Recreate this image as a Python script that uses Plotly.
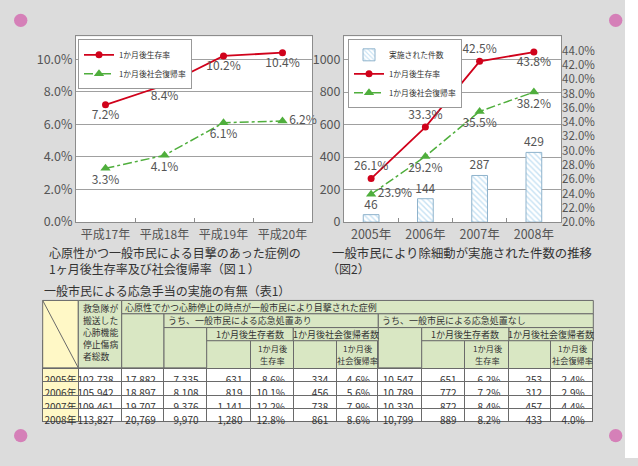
import plotly.graph_objects as go

W, H = 638, 466


def px(x):
    return x / W


def py(y):
    return 1 - y / H


# ---------------- data ----------------
# Figure 1
fig1_categories = ["平成17年", "平成18年", "平成19年", "平成20年"]
fig1_survival = [7.2, 8.4, 10.2, 10.4]
fig1_social = [3.3, 4.1, 6.1, 6.2]
fig1_yticks = [0, 2, 4, 6, 8, 10]

# Figure 2
fig2_categories = ["2005年", "2006年", "2007年", "2008年"]
fig2_counts = [46, 144, 287, 429]
fig2_survival = [26.1, 33.3, 42.5, 43.8]
fig2_social = [23.9, 29.2, 35.5, 38.2]
fig2_left_ticks = [0, 200, 400, 600, 800, 1000]
fig2_right_ticks = [20, 22, 24, 26, 28, 30, 32, 34, 36, 38, 40, 42, 44]

# Table 1
table_years = ["2005年", "2006年", "2007年", "2008年"]
total_cpa = [102738, 105942, 109461, 113827]
witnessed = [17882, 18897, 19707, 20769]
aid_total = [7335, 8108, 9376, 9970]
aid_survivors = [631, 819, 1141, 1280]
aid_survival_rate = [8.6, 10.1, 12.2, 12.8]
aid_social = [334, 456, 738, 861]
aid_social_rate = [4.6, 5.6, 7.9, 8.6]
noaid_total = [10547, 10789, 10330, 10799]
noaid_survivors = [651, 772, 872, 889]
noaid_survival_rate = [6.2, 7.2, 8.4, 8.2]
noaid_social = [253, 312, 457, 433]
noaid_social_rate = [2.4, 2.9, 4.4, 4.0]

# ---------------- styles ----------------
JP = "Noto Sans CJK JP"
NUM = "Noto Sans CJK JP"
RED = "#d0021b"
GREEN = "#4fae3c"
GRID = "#a0a0a0"
AX = "#8c8c8c"
TXT = "#555555"
DARK = "#333333"
BG = "#dcdcdc"
HDR = "#d9e7c3"
YEL = "#fff8c6"
TLINE = "#6a6a6a"
PINK = "#d580b8"
LBL = 12

fig = go.Figure()

# Figure 1 traces
fig.add_trace(go.Scatter(
    x=fig1_categories, y=fig1_survival, name="1か月後生存率",
    mode="lines+markers+text", xaxis="x", yaxis="y", legend="legend",
    line=dict(color=RED, width=1.8), marker=dict(symbol="circle", size=7, color=RED),
    text=[f"{v:.1f}%" for v in fig1_survival], textposition="bottom center",
    textfont=dict(family=NUM, size=LBL, color=TXT), cliponaxis=False,
))
fig.add_trace(go.Scatter(
    x=fig1_categories, y=fig1_social, name="1か月後社会復帰率",
    mode="lines+markers+text", xaxis="x", yaxis="y", legend="legend",
    line=dict(color=GREEN, width=1.5, dash="dashdot"),
    marker=dict(symbol="triangle-up", size=9, color=GREEN),
    text=[f"{v:.1f}%" for v in fig1_social],
    textposition=["bottom center", "bottom center", "bottom center", "middle right"],
    textfont=dict(family=NUM, size=LBL, color=TXT), cliponaxis=False,
))

# Figure 2 traces
fig.add_trace(go.Bar(
    x=fig2_categories, y=fig2_counts, name="実施された件数",
    xaxis="x2", yaxis="y2", legend="legend2", width=0.29,
    marker=dict(color="white", line=dict(color="#8fb3cc", width=1),
                pattern=dict(shape="\\", fgcolor="#8cc4e8", size=4, solidity=0.35)),
    text=[str(v) for v in fig2_counts], textposition="outside", constraintext="none",
    textfont=dict(family=NUM, size=LBL, color=TXT), cliponaxis=False,
))
fig.add_trace(go.Scatter(
    x=fig2_categories, y=fig2_survival, name="1か月後生存率",
    mode="lines+markers+text", xaxis="x2", yaxis="y3", legend="legend2",
    line=dict(color=RED, width=1.8), marker=dict(symbol="circle", size=7, color=RED),
    text=[f"{v:.1f}%" for v in fig2_survival],
    textposition=["top center", "top center", "top center", "bottom center"],
    textfont=dict(family=NUM, size=LBL, color=TXT), cliponaxis=False,
))
fig.add_trace(go.Scatter(
    x=fig2_categories, y=fig2_social, name="1か月後社会復帰率",
    mode="lines+markers+text", xaxis="x2", yaxis="y3", legend="legend2",
    line=dict(color=GREEN, width=1.5, dash="dashdot"),
    marker=dict(symbol="triangle-up", size=9, color=GREEN),
    text=[f"{v:.1f}%" for v in fig2_social],
    textposition=["middle right", "bottom center", "bottom center", "bottom center"],
    textfont=dict(family=NUM, size=LBL, color=TXT), cliponaxis=False,
))

# Table body (plus last header row) via go.Table
col_x = [42.7, 78.3, 121.7, 164, 206.7, 250.7, 293.3, 336.7, 378.3,
         421.7, 465, 509, 550.7, 593.3]
hdr_y = [305.7, 319.3, 333.3, 346.7, 374.3]
row_h = 13.35
col_w = [col_x[i + 1] - col_x[i] for i in range(len(col_x) - 1)]


def fmt_int(vals):
    return [f"{v:,}" for v in vals]


def fmt_pct(vals):
    return [f"{v:.1f}%" for v in vals]


cell_cols = [
    table_years, fmt_int(total_cpa), fmt_int(witnessed), fmt_int(aid_total),
    fmt_int(aid_survivors), fmt_pct(aid_survival_rate), fmt_int(aid_social),
    fmt_pct(aid_social_rate), fmt_int(noaid_total), fmt_int(noaid_survivors),
    fmt_pct(noaid_survival_rate), fmt_int(noaid_social), fmt_pct(noaid_social_rate),
]

fig.add_trace(go.Table(
    domain=dict(x=[px(col_x[0]), px(col_x[-1])], y=[py(434), py(hdr_y[3])]),
    columnwidth=col_w,
    header=dict(values=[""] * 13, height=hdr_y[4] - hdr_y[3], fill_color=HDR,
                line=dict(color=TLINE, width=1), align="center",
                font=dict(family=JP, size=9, color=DARK)),
    cells=dict(values=cell_cols, height=row_h,
               fill_color=[[YEL] * 4] + [["white"] * 4] * 12,
               line=dict(color=TLINE, width=1),
               align=["center"] + ["right"] * 12,
               font=dict(family=NUM, size=10, color=DARK)),
))

shapes = []
annotations = []

# right white strip
shapes.append(dict(type="rect", xref="paper", yref="paper", x0=px(625), x1=1, y0=0, y1=1,
                   fillcolor="white", line=dict(width=0), layer="below"))
# pink dots
for cx, cy in [(20.7, 20.7), (615.7, 20.7), (20.7, 443.3), (615.7, 443.3)]:
    r = 6.7
    shapes.append(dict(type="circle", xref="paper", yref="paper",
                       x0=px(cx - r), x1=px(cx + r), y0=py(cy + r), y1=py(cy - r),
                       fillcolor=PINK, line=dict(width=0)))

# merged header cells: (c0, c1, r0, r1, fill)
header_cells = [
    (0, 1, 0, 4, YEL), (1, 2, 0, 4, HDR), (2, 13, 0, 1, HDR), (2, 3, 1, 4, HDR),
    (3, 8, 1, 2, HDR), (8, 13, 1, 2, HDR), (3, 4, 2, 4, HDR), (8, 9, 2, 4, HDR),
    (4, 6, 2, 3, HDR), (6, 8, 2, 3, HDR), (9, 11, 2, 3, HDR), (11, 13, 2, 3, HDR),
]
for c0, c1, r0, r1, fill in header_cells:
    shapes.append(dict(type="rect", xref="paper", yref="paper",
                       x0=px(col_x[c0]), x1=px(col_x[c1]),
                       y0=py(hdr_y[r1]), y1=py(hdr_y[r0]),
                       fillcolor=fill, line=dict(color=TLINE, width=1), layer="above"))
shapes.append(dict(type="line", xref="paper", yref="paper",
                   x0=px(col_x[0]), y0=py(hdr_y[0]), x1=px(col_x[1]), y1=py(hdr_y[4]),
                   line=dict(color=TLINE, width=1), layer="above"))


def ann(x, y, text, size=10, xanchor="left", color=DARK, family=JP):
    annotations.append(dict(xref="paper", yref="paper", x=px(x), y=py(y), text=text,
                            showarrow=False, xanchor=xanchor, yanchor="middle",
                            font=dict(family=family, size=size, color=color)))


# header texts
for i, line in enumerate(["救急隊が", "搬送した", "心肺機能", "停止傷病", "者総数"]):
    ann(col_x[1] + 2.5, 313.5 + i * 12.2, line, size=8.8)
ann(col_x[2] + 1.5, (hdr_y[0] + hdr_y[1]) / 2, "心原性でかつ心肺停止の時点が一般市民により目撃された症例", size=9)
ann(col_x[3] + 1.5, (hdr_y[1] + hdr_y[2]) / 2, "うち、一般市民による応急処置あり", size=9)
ann(col_x[8] + 1.5, (hdr_y[1] + hdr_y[2]) / 2, "うち、一般市民による応急処置なし", size=9)
for c0, c1, t in [(4, 6, "1か月後生存者数"), (6, 8, "1か月後社会復帰者数"),
                  (9, 11, "1か月後生存者数"), (11, 13, "1か月後社会復帰者数")]:
    ann((col_x[c0] + col_x[c1]) / 2, (hdr_y[2] + hdr_y[3]) / 2, t, size=9, xanchor="center")
for c, t2 in [(5, "生存率"), (7, "社会復帰率"), (10, "生存率"), (12, "社会復帰率")]:
    xc = (col_x[c] + col_x[c + 1]) / 2
    ann(xc, 354.5, "1か月後", size=8.2, xanchor="center")
    ann(xc, 366, t2, size=8.2, xanchor="center")

# captions
ann(47, 257.3, "心原性かつ一般市民による目撃のあった症例の", size=12)
ann(47, 273, "1ヶ月後生存率及び社会復帰率（図１）", size=12)
ann(330, 257.3, "一般市民により除細動が実施された件数の推移", size=12.4)
ann(325, 273, "（図2）", size=12)
ann(42, 295.5, "一般市民による応急手当の実施の有無（表1）", size=12)

axis_common = dict(showline=True, linecolor=AX, linewidth=1, mirror=True, zeroline=False)
tickf = dict(family=NUM, size=12.5, color=TXT)
legf = dict(family=JP, size=7.8, color=DARK)

fig.update_layout(
    width=W, height=H, margin=dict(l=0, r=0, t=0, b=0),
    paper_bgcolor=BG, plot_bgcolor="white", showlegend=True, bargap=0.7,
    xaxis=dict(domain=[px(76), px(312)], anchor="y", type="category", range=[-0.5, 3.5],
               ticks="inside", tickson="boundaries", ticklen=4, tickcolor=AX,
               ticklabelstandoff=1,
               showgrid=False, tickfont=dict(family=JP, size=12, color=TXT), **axis_common),
    yaxis=dict(domain=[py(226), py(37)], anchor="x", range=[0, 11.4],
               tickvals=fig1_yticks, ticktext=[f"{v:.1f}%" for v in fig1_yticks],
               showgrid=True, gridcolor=GRID, gridwidth=1, ticks="", tickfont=tickf,
               **axis_common),
    xaxis2=dict(domain=[px(344), px(561)], anchor="y2", type="category", range=[-0.5, 3.5],
                ticks="inside", tickson="boundaries", ticklen=4, tickcolor=AX,
                ticklabelstandoff=1,
                showgrid=False, tickfont=tickf, **axis_common),
    yaxis2=dict(domain=[py(226), py(37)], anchor="x2", range=[0, 1143],
                tickvals=fig2_left_ticks, showgrid=True, gridcolor=GRID, gridwidth=1,
                ticks="", tickfont=tickf, **axis_common),
    yaxis3=dict(overlaying="y2", anchor="x2", side="right", range=[20, 46],
                tickvals=fig2_right_ticks, ticktext=[f"{v:.1f}%" for v in fig2_right_ticks],
                showgrid=False, showline=False, ticks="", zeroline=False,
                tickfont=dict(family=NUM, size=11.5, color=TXT)),
    legend=dict(x=px(78), y=py(40), xanchor="left", yanchor="top", bgcolor="white",
                bordercolor="#999999", borderwidth=1, font=legf,
                tracegroupgap=0, itemwidth=30),
    legend2=dict(x=px(348), y=py(40), xanchor="left", yanchor="top", bgcolor="white",
                 bordercolor="#999999", borderwidth=1, font=legf,
                 tracegroupgap=0, itemwidth=30, traceorder="normal"),
    shapes=shapes, annotations=annotations,
)

fig.write_html("out.html", config={"displayModeBar": False},
               post_script="document.body.style.margin='0px';")
